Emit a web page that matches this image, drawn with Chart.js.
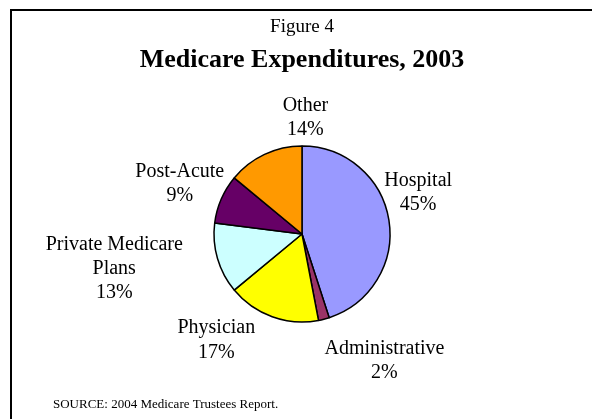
<!DOCTYPE html>
<html>
<head>
<meta charset="utf-8">
<script src="https://cdn.jsdelivr.net/npm/chart.js@4/dist/chart.umd.min.js"></script>
<style>
    html, body { margin: 0; padding: 0; background: #fff; }
</style>
</head>
<body>
<canvas id="chart-ctx" width="592" height="419"></canvas>
<script>
const categories = ["Hospital", "Administrative", "Physician", "Private Medicare Plans", "Post-Acute", "Other"];
const labelLines = [["Hospital"], ["Administrative"], ["Physician"], ["Private Medicare", "Plans"], ["Post-Acute"], ["Other"]];
const shares = [45, 2, 17, 13, 9, 14];
const sliceColors = ["#9999FF", "#993366", "#FFFF00", "#CCFFFF", "#660066", "#FF9900"];

const serif = "'Liberation Serif', 'Times New Roman', serif";

// where each label sits: angle clockwise from 12 o'clock, distance in pie radii
const labelPlacement = [
    { angle: 70.6, dist: 1.40 },
    { angle: 147, dist: 1.72 },
    { angle: 218.9, dist: 1.55 },
    { angle: 259.5, dist: 2.17 },
    { angle: 292.2, dist: 1.50 },
    { angle: 1.7, dist: 1.32 },
];

const sliceLabels = {
    id: "sliceLabels",
    afterDatasetsDraw(chart) {
        const ctx = chart.ctx;
        const meta = chart.getDatasetMeta(0);
        ctx.save();
        ctx.fillStyle = "#000";
        ctx.font = "20px " + serif;
        ctx.textAlign = "center";
        ctx.textBaseline = "middle";
        const lineHeight = 24.2;
        meta.data.forEach((arc, i) => {
            const { x, y, outerRadius } = arc.getProps(["x", "y", "outerRadius"], true);
            const place = labelPlacement[i];
            const a = place.angle * Math.PI / 180;
            const cx = x + Math.sin(a) * place.dist * outerRadius;
            const cy = y - Math.cos(a) * place.dist * outerRadius;
            const lines = [...labelLines[i], shares[i] + "%"];
            const top = cy - (lines.length - 1) * lineHeight / 2;
            lines.forEach((line, j) => {
                ctx.fillText(line, cx, top + j * lineHeight);
            });
        });
        ctx.restore();
    }
};

const frame = {
    id: "frame",
    beforeDraw(chart) {
        const ctx = chart.ctx;
        ctx.save();
        ctx.fillStyle = "#fff";
        ctx.fillRect(0, 0, chart.width, chart.height);
        ctx.strokeStyle = "#000";
        ctx.lineWidth = 2;
        ctx.beginPath();
        ctx.moveTo(11, chart.height);
        ctx.lineTo(11, 10);
        ctx.lineTo(chart.width, 10);
        ctx.stroke();
        ctx.fillStyle = "#000";
        ctx.font = "13px " + serif;
        ctx.textAlign = "left";
        ctx.textBaseline = "alphabetic";
        ctx.fillText("SOURCE: 2004 Medicare Trustees Report.", 53, 408);
        ctx.restore();
    }
};

new Chart(document.getElementById("chart-ctx"), {
    type: "pie",
    data: {
        labels: categories,
        datasets: [{
            data: shares,
            backgroundColor: sliceColors,
            borderColor: "#000",
            borderWidth: 1.5,
            radius: 88,
        }]
    },
    plugins: [frame, sliceLabels],
    options: {
        responsive: false,
        animation: false,
        devicePixelRatio: 1,
        layout: {
            padding: { left: 12, right: 0, top: 0, bottom: 27 }
        },
        plugins: {
            legend: { display: false },
            tooltip: { enabled: false },
            title: {
                display: true,
                text: "Figure 4",
                color: "#000",
                font: { family: serif, size: 19, weight: "normal", lineHeight: 1.2 },
                padding: { top: 15.5, bottom: 0 },
            },
            subtitle: {
                display: true,
                text: "Medicare Expenditures, 2003",
                color: "#000",
                font: { family: serif, size: 26, weight: "bold", lineHeight: 1.2 },
                padding: { top: 6.5, bottom: 0 },
            },
        }
    }
});
</script>
</body>
</html>
